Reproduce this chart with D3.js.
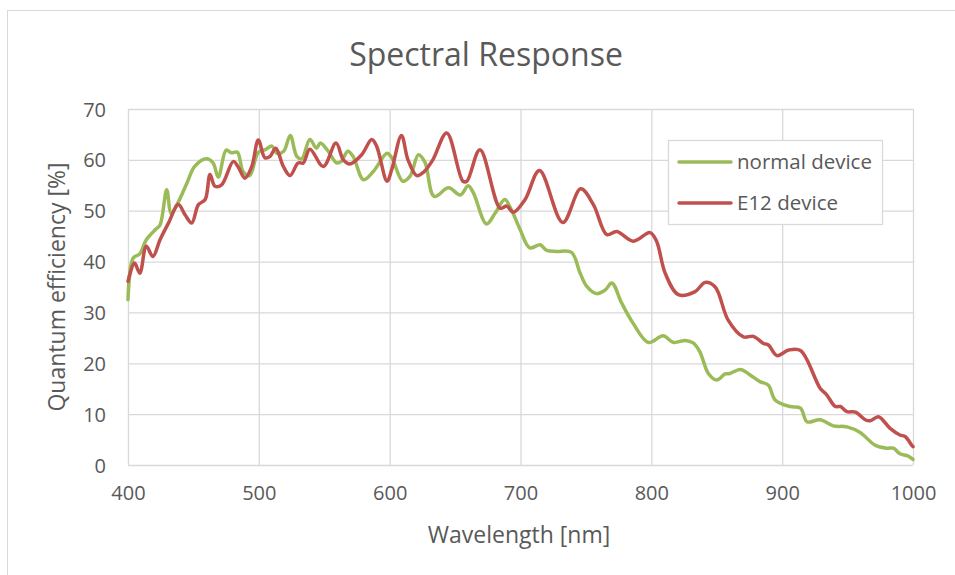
<!DOCTYPE html>
<html>
<head>
<meta charset="utf-8">
<script src="https://cdn.jsdelivr.net/npm/d3@7"></script>
<style>
  html, body { margin: 0; padding: 0; background: #ffffff; }
  svg { display: block; font-family: "Open Sans", sans-serif; }
</style>
</head>
<body>
<svg id="chart" width="955" height="575"></svg>
<script>
const chartTitle = "Spectral Response";
const xAxisTitle = "Wavelength [nm]";
const yAxisTitle = "Quantum efficiency [%]";
const seriesNames = ["normal device", "E12 device"];
const seriesColors = ["#9BBB59", "#C0504D"];
const xTicks = [400, 500, 600, 700, 800, 900, 1000];
const yTicks = [0, 10, 20, 30, 40, 50, 60, 70];

const normalX = [400,404,409,414,421,424.5,429.6,433,438,445,451,460,465,469,475,479,483.6,488,493,499.6,505,510,513.7,519,524,529,532.8,539,544,547,553,559.4,563,568,572,580,587.5,598,601.6,610,615.6,622,627,634,645,654,660,664,674,680.6,688,693,699.7,707,715,720,727.7,739,745.6,750.7,758,764.7,769.8,777.4,786,797.8,809,817,826,832,837,843.6,850,856.4,860,868,875.5,883,889.5,894.6,906,914,919,929,939,949.5,959.6,971,980,985,990,996,1000];
const normalY = [32.5,40.7,41.5,44.3,46.3,47.2,54.1,49.5,51.5,55.4,58.7,60.2,59.4,56.6,61.9,61.4,61.5,57.7,56.9,61.5,62,62.7,61.3,61.7,64.8,60.7,60.2,64,62.3,63.3,61.7,59.4,59.7,61.7,60.7,56.1,57.7,61.3,60.4,55.8,56.8,61,59.5,52.8,54.5,53.1,54.9,53.5,47.4,49.5,52.2,50.2,46.3,42.7,43.3,42.2,42,41.8,37.7,35.1,33.7,34.4,35.8,31.8,27.9,24.1,25.4,24.1,24.5,24,22.3,18,16.7,17.9,18,18.8,17.7,16.4,15.7,12.8,11.5,11.2,8.5,8.9,7.7,7.5,6.4,3.9,3.3,3.3,2.2,1.8,1.1];

const e12X = [400,405,409,414,419,424.5,431,438.5,443.6,448.7,453.8,459,462.7,466.5,471.6,480.5,484,489.4,494.6,499.6,504.7,508.6,513,518.7,523.9,530,534,539,549.3,559,564.6,569.7,578.6,586.3,590,598,601.6,609,614,620.7,626,633,643.6,656,659,669,684.4,689.5,694.6,703.5,714.5,732.3,746,755.7,766,773.6,786.3,799,804,810.6,820.7,833.5,841,848.8,858.7,870.4,878,885.7,889.5,896,905,914,929,934,940.6,944.5,949.5,956,963.5,967.3,973.6,982.5,990,994,999,1000];
const e12Y = [36.1,39.7,37.7,43,41,44.3,47.6,51.2,49.2,47.6,51.2,52.2,57.1,54.8,55.1,59.7,58.7,56.4,58.7,63.9,60.4,60.7,62.3,58.7,56.9,59.4,59.4,62.1,58.7,63.3,60,59.2,61,64,62.7,55.8,58.1,64.8,60,56.9,57.6,60,65.3,55.8,55.8,62,50.5,50.9,49.7,52.2,57.9,47.7,54.3,51.2,45.3,45.9,44,45.7,44,37.7,33.5,34.1,35.9,35,28.5,25.2,25.3,23.9,23.6,21.5,22.6,22.5,15.1,13.8,11.5,11.5,10.5,10.4,8.9,8.7,9.5,7.2,5.9,5.6,3.9,3.6];

const series = [
  { name: seriesNames[0], color: seriesColors[0], pts: normalX.map((v, i) => [v, normalY[i]]) },
  { name: seriesNames[1], color: seriesColors[1], pts: e12X.map((v, i) => [v, e12Y[i]]) }
];

const svg = d3.select("#chart");
const textColor = "#595959";
const gridColor = "#d9d9d9";

// outer chart border
svg.append("rect")
  .attr("x", 7.5).attr("y", 10.5)
  .attr("width", 960).attr("height", 580)
  .attr("fill", "none").attr("stroke", gridColor).attr("stroke-width", 1);

const plotL = 128, plotR = 913, plotT = 109, plotB = 465;
const xs = d3.scaleLinear().domain([400, 1000]).range([plotL, plotR]);
const ys = d3.scaleLinear().domain([0, 70]).range([plotB, plotT]);

// gridlines + labels via axes
const gx = svg.append("g")
  .attr("transform", `translate(0,${plotB})`)
  .call(d3.axisBottom(xs).tickValues(xTicks).tickSize(-(plotB - plotT)).tickPadding(17).tickFormat(d3.format("d")));
gx.select(".domain").remove();
gx.selectAll(".tick line").attr("stroke", gridColor).attr("stroke-width", 1.3);
gx.selectAll(".tick text").attr("fill", textColor).attr("font-size", 20).attr("font-family", "Open Sans").attr("dy", "0.9em");

const gy = svg.append("g")
  .attr("transform", `translate(${plotL},0)`)
  .call(d3.axisLeft(ys).tickValues(yTicks).tickSize(-(plotR - plotL)).tickPadding(22));
gy.select(".domain").remove();
gy.selectAll(".tick line").attr("stroke", gridColor).attr("stroke-width", 1.3);
gy.selectAll(".tick text").attr("fill", textColor).attr("font-size", 20).attr("font-family", "Open Sans").attr("dy", "0.35em");

// lines
const line = d3.line()
  .x(d => xs(d[0]))
  .y(d => ys(d[1]))
  .curve(d3.curveCatmullRom.alpha(0.5));

svg.append("g").selectAll("path")
  .data(series)
  .join("path")
  .attr("d", d => line(d.pts))
  .attr("fill", "none")
  .attr("stroke", d => d.color)
  .attr("stroke-width", 3.5)
  .attr("stroke-linejoin", "round")
  .attr("stroke-linecap", "round");

// title
svg.append("text")
  .attr("x", 486).attr("y", 66)
  .attr("text-anchor", "middle")
  .attr("fill", textColor)
  .attr("font-size", 32)
  .text(chartTitle);

// axis titles
svg.append("text")
  .attr("x", 519).attr("y", 543)
  .attr("text-anchor", "middle")
  .attr("fill", textColor)
  .attr("font-size", 23)
  .text(xAxisTitle);

svg.append("text")
  .attr("transform", "translate(65,287) rotate(-90)")
  .attr("text-anchor", "middle")
  .attr("fill", textColor)
  .attr("font-size", 23)
  .text(yAxisTitle);

// legend
const lg = svg.append("g");
lg.append("rect")
  .attr("x", 668.5).attr("y", 140.5)
  .attr("width", 214).attr("height", 84)
  .attr("fill", "#ffffff").attr("stroke", gridColor).attr("stroke-width", 1.3);
series.forEach((s, i) => {
  const ly = 162 + i * 41;
  lg.append("line")
    .attr("x1", 679).attr("x2", 731).attr("y1", ly).attr("y2", ly)
    .attr("stroke", s.color).attr("stroke-width", 3.5).attr("stroke-linecap", "round");
  lg.append("text")
    .attr("x", 737).attr("y", ly).attr("dy", "0.35em")
    .attr("fill", textColor).attr("font-size", 20.5)
    .text(s.name);
});
</script>
</body>
</html>
